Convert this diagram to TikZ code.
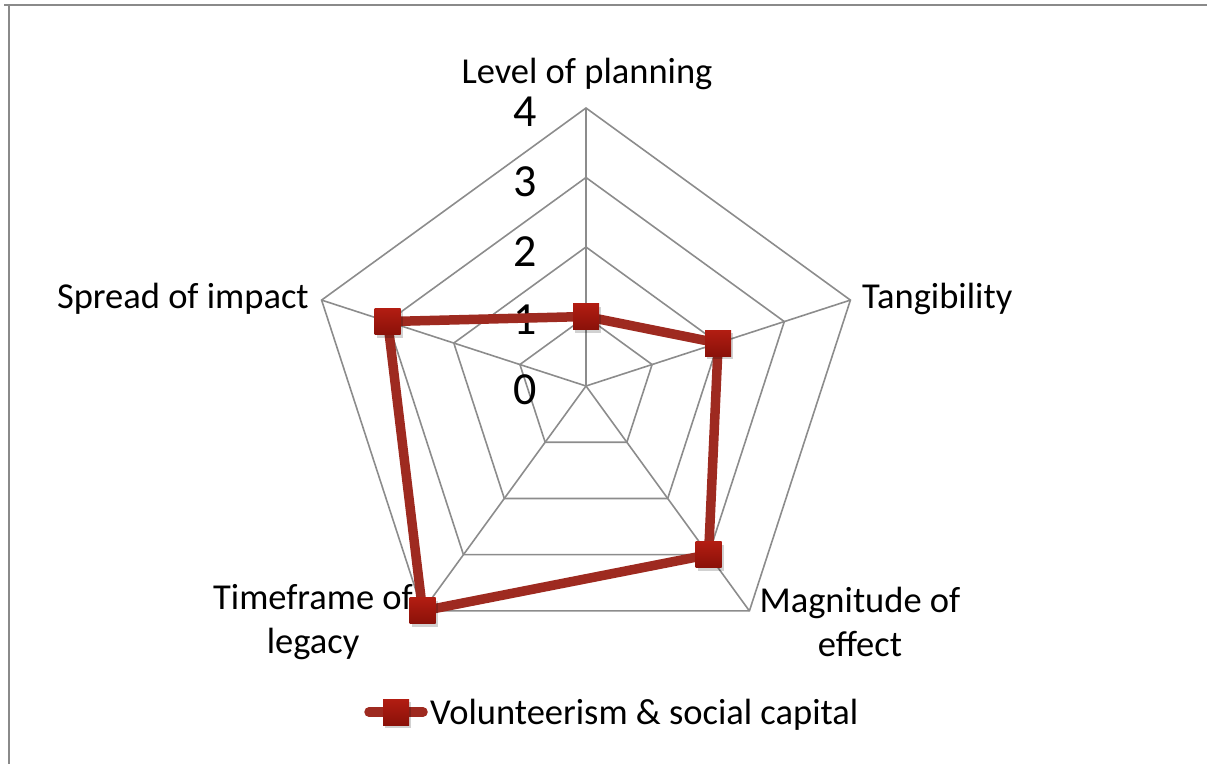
\documentclass[tikz,border=0pt]{standalone}
\usepackage{fontspec}
\setmainfont{Carlito}
\definecolor{gridgray}{HTML}{8C8C8C}
\definecolor{frameGray}{HTML}{8A8A8A}
\definecolor{dataRed}{HTML}{9E2A20}
\definecolor{markTop}{HTML}{B21D12}
\definecolor{markBot}{HTML}{8A1109}
\tikzset{
  gridline/.style={draw=gridgray, line width=1.6pt},
  frameline/.style={draw=frameGray, line width=2pt},
  dataline/.style={draw=dataRed, line width=9.5pt, line join=miter},
  marker/.style={rectangle, minimum size=26pt, inner sep=0pt, top color=markTop, bottom color=markBot, draw=none},
  markshadow/.style={rectangle, minimum size=26pt, inner sep=0pt, fill=black, opacity=0.18, draw=none},
  axislabel/.style={font=\fontsize{36.5}{44}\selectfont, inner sep=0pt, text=black},
  numlabel/.style={font=\fontsize{46}{52}\selectfont, inner sep=0pt, anchor=east, text=black},
}
\begin{document}
\begin{tikzpicture}[x=1pt,y=-1pt]
\useasboundingbox (0,0) rectangle (1207,764);
% frame
\draw[frameline] (4,5) -- (1207,5);
\draw[frameline] (9,5) -- (9,764);
% centre and axis vertices
\coordinate (C) at (586,386);
\foreach \i/\a in {0/90,1/18,2/-54,3/-126,4/162}{
  \foreach \l in {1,2,3,4}{
    \coordinate (g\i-\l) at ({586+69.5*\l*cos(\a)},{386-69.5*\l*sin(\a)});
  }
}
% grid pentagons
\foreach \l in {1,2,3,4}{
  \draw[gridline] (g0-\l) -- (g1-\l) -- (g2-\l) -- (g3-\l) -- (g4-\l) -- cycle;
}
% spokes
\foreach \i in {0,1,2,3,4}{
  \draw[gridline] (C) -- (g\i-4);
}
% scale numbers
\node[numlabel] (n4) at (537,111.5) {4};
\node[numlabel] (n3) at (537,182) {3};
\node[numlabel] (n2) at (537,252) {2};
\node[numlabel] (n1) at (537,320) {1};
\node[numlabel] (n0) at (537,390) {0};
% axis labels
\node[axislabel, anchor=base] (lp) at (587,83) {Level of planning};
\node[axislabel, anchor=base west] (lt) at (862,308) {Tangibility};
\node[axislabel, anchor=base east] (ls) at (309,308) {Spread of impact};
\node[axislabel, align=center] (lm) at (860,622) {Magnitude of\\effect};
\node[axislabel, align=center] (ll) at (313,622) {Timeframe of\\legacy};
% data
\coordinate (p0) at (g0-1);
\coordinate (p1) at (g1-2);
\coordinate (p2) at (g2-3);
\coordinate (p3) at (g3-4);
\coordinate (p4) at (g4-3);
\draw[dataline] (p0) -- (p1) -- (p2) -- (p3) -- (p4) -- cycle;
\foreach \i in {0,1,2,3,4}{
  \node[markshadow] at ([shift={(2,3)}]p\i) {};
  \node[marker] (m\i) at (p\i) {};
}
% legend
\coordinate (la) at (369,712);
\coordinate (lb) at (423,712);
\draw[draw=dataRed, line width=9.5pt, line cap=round] (la) -- (lb);
\node[markshadow] at (398,715) {};
\node[marker] (lm0) at (396,712) {};
\node[axislabel, anchor=base west] (legtext) at (430,724) {Volunteerism \& social capital};
\end{tikzpicture}
\end{document}
